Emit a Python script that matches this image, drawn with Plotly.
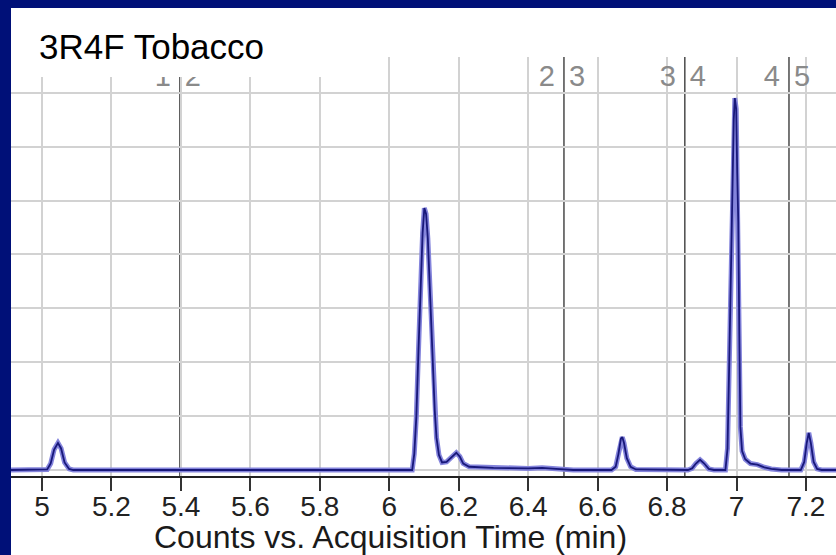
import plotly.graph_objects as go

# ---- data ----
time_min = [
    4.91, 5.000, 5.015, 5.025, 5.035, 5.046, 5.055, 5.065, 5.078, 5.090,
    6.000, 6.066, 6.072, 6.078, 6.084, 6.090, 6.096, 6.101, 6.106, 6.111,
    6.116, 6.121, 6.126, 6.131, 6.136, 6.143, 6.152, 6.165, 6.180, 6.193,
    6.203, 6.213, 6.230, 6.300, 6.400, 6.440, 6.480, 6.530,
    6.640, 6.652, 6.660, 6.667, 6.671, 6.676, 6.684, 6.695, 6.710,
    6.860, 6.872, 6.883, 6.895, 6.907, 6.920, 6.935,
    6.968, 6.974, 6.979, 6.984, 6.988, 6.992, 6.995, 6.999, 7.002, 7.005,
    7.008, 7.011, 7.016, 7.025, 7.040, 7.060, 7.080, 7.100, 7.130,
    7.185, 7.195, 7.202, 7.208, 7.214, 7.222, 7.232, 7.245, 7.29,
]
counts = [
    0.0, 0.0, 0.01, 0.12, 0.38, 0.50, 0.40, 0.14, 0.02, 0.0,
    0.0, 0.0, 0.3, 1.0, 2.2, 3.4, 4.4, 4.86, 4.75, 4.3,
    3.6, 2.8, 1.9, 1.1, 0.6, 0.28, 0.14, 0.15, 0.24, 0.32,
    0.25, 0.12, 0.06, 0.04, 0.03, 0.04, 0.02, 0.0,
    0.0, 0.06, 0.30, 0.58, 0.61, 0.50, 0.22, 0.06, 0.01,
    0.0, 0.03, 0.12, 0.19, 0.12, 0.02, 0.0,
    0.0, 0.4, 2.0, 3.8, 5.2, 6.5, 6.9, 6.7, 5.5, 4.6,
    2.5, 0.8, 0.35, 0.2, 0.12, 0.10, 0.05, 0.02, 0.0,
    0.0, 0.15, 0.50, 0.69, 0.50, 0.15, 0.02, 0.0, 0.0,
]
tick_vals = [5.0, 5.2, 5.4, 5.6, 5.8, 6.0, 6.2, 6.4, 6.6, 6.8, 7.0, 7.2]
tick_text = ["5", "5.2", "5.4", "5.6", "5.8", "6", "6.2", "6.4", "6.6", "6.8", "7", "7.2"]
seg_bounds = [5.397, 6.503, 6.851, 7.151]
seg_left = ["1", "2", "3", "4"]
seg_right = ["2", "3", "4", "5"]
seg_label_level = [7.25, 7.25, 7.25, 7.25]
chart_title = "3R4F Tobacco"
x_title = "Counts vs. Acquisition Time (min)"

# ---- layout constants ----
W, H = 836, 555
ML, MR, MT, MB = 11, 0, 57, 79
PW, PH = W - ML - MR, H - MT - MB
NAVY = "#001078"
FONT = "Liberation Sans, Arial, Helvetica, sans-serif"

px_per_min = 347.27
x0 = 5.0 - (42 - ML) / px_per_min
x1 = x0 + PW / px_per_min
px_per_unit = 53.9
y0 = -6 / px_per_unit
y1 = y0 + PH / px_per_unit

fig = go.Figure()

# chromatogram: soft halo + dark core
fig.add_trace(go.Scatter(x=time_min, y=counts, mode="lines",
                         line=dict(color="#8484dc", width=5),
                         hoverinfo="skip", showlegend=False))
fig.add_trace(go.Scatter(x=time_min, y=counts, mode="lines",
                         line=dict(color="#18187a", width=1.8),
                         showlegend=False))

# segment labels, nudged a few pixels off each boundary line
left_x = [s - 9 / px_per_min for s in seg_bounds]
right_x = [s + 5 / px_per_min for s in seg_bounds]
fig.add_trace(go.Scatter(x=left_x, y=seg_label_level, mode="text",
                         text=seg_left, textposition="middle left",
                         textfont=dict(family=FONT, size=29, color="#8a8a8a"),
                         cliponaxis=False, showlegend=False, hoverinfo="skip"))
fig.add_trace(go.Scatter(x=right_x, y=seg_label_level, mode="text",
                         text=seg_right, textposition="middle right",
                         textfont=dict(family=FONT, size=29, color="#8a8a8a"),
                         cliponaxis=False, showlegend=False, hoverinfo="skip"))

# white page area (everything except the navy frame on the left/top)
fig.add_shape(type="rect", xref="paper", yref="paper",
              x0=0, x1=1, y0=-MB / PH, y1=1 + (MT - 8) / PH,
              fillcolor="white", line=dict(width=0), layer="below")

# segment boundary lines
for s in seg_bounds:
    fig.add_shape(type="line", xref="x", yref="paper", x0=s, x1=s, y0=0, y1=1,
                  line=dict(color="#555555", width=1.6), layer="between")

# white box behind the title
fig.add_shape(type="rect", xref="paper", yref="paper",
              x0=0, x1=(383 - ML) / PW, y0=(476 - 77) / PH,
              y1=1 + (MT - 8) / PH,
              fillcolor="white", line=dict(width=0), layer="above")

fig.add_annotation(text=chart_title, xref="paper", yref="paper",
                   x=(37 - ML) / PW, y=(476 - 46) / PH,
                   xanchor="left", yanchor="middle", showarrow=False,
                   font=dict(family=FONT, size=35, color="black"))
fig.add_annotation(text=x_title, xref="paper", yref="paper",
                   x=(390 - ML) / PW, y=(476 - 537) / PH,
                   xanchor="center", yanchor="middle", showarrow=False,
                   font=dict(family=FONT, size=32, color="#1a1a1a"))

fig.update_layout(
    width=W, height=H,
    margin=dict(l=ML, r=MR, t=MT, b=MB, pad=0),
    paper_bgcolor=NAVY, plot_bgcolor="white",
    showlegend=False,
    xaxis=dict(range=[x0, x1], tickmode="array", tickvals=tick_vals, ticktext=tick_text,
               showgrid=True, gridcolor="#d2d2d2", gridwidth=2,
               zeroline=False, showline=True, linecolor="#222222", linewidth=2,
               ticks="outside", ticklen=13, tickwidth=2, tickcolor="#333333",
               ticklabelstandoff=-9,
               tickfont=dict(family=FONT, size=28, color="#222222")),
    yaxis=dict(range=[y0, y1], dtick=1, tick0=0, showgrid=True, gridcolor="#d2d2d2",
               gridwidth=2, zeroline=False, showticklabels=False, showline=False,
               ticks=""),
)

fig.write_html("out.html")
